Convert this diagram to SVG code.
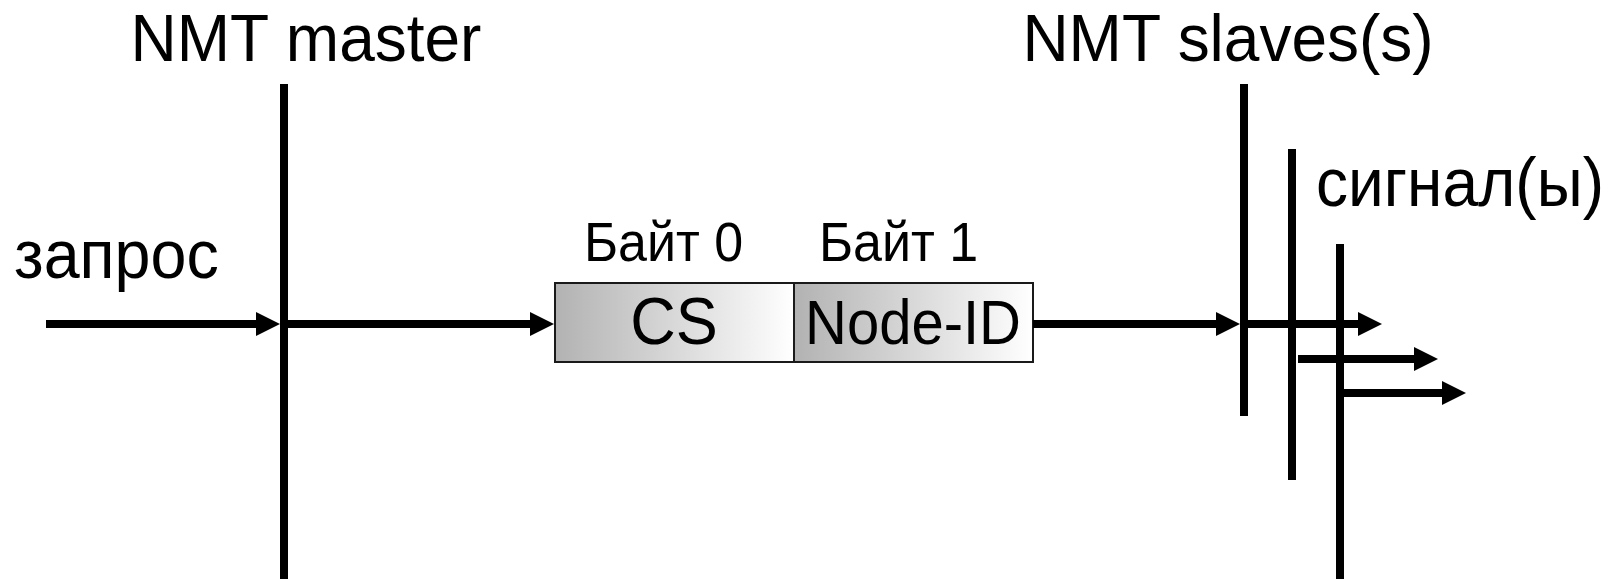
<svg xmlns="http://www.w3.org/2000/svg" width="1612" height="579" viewBox="0 0 1612 579">
  <style>
    text { font-family: "Liberation Sans", Arial, sans-serif; fill: #000; }
    .big { font-size: 64px; }
    .mid { font-size: 58px; }
    .cs { font-size: 63px; }
    .small { font-size: 52px; }
    .life { stroke: #000; stroke-width: 8; fill: none; }
    .conn { stroke: #000; stroke-width: 8; fill: none; marker-end: url(#ah); }
    .cell { stroke: #1a1a1a; stroke-width: 2; fill: url(#grad); }
  </style>
  <defs>
    <linearGradient id="grad" x1="0" y1="0" x2="1" y2="0">
      <stop offset="0" stop-color="#b2b2b2"/>
      <stop offset="1" stop-color="#ffffff"/>
    </linearGradient>
    <marker id="ah" markerUnits="userSpaceOnUse" viewBox="0 0 24 24" markerWidth="24" markerHeight="24" refX="4" refY="12" orient="auto">
      <path d="M0,0 L24,12 L0,24 z" fill="#000"/>
    </marker>
  </defs>

  <g id="master">
    <text class="big" transform="translate(306,60.5) scale(1,1.04)" text-anchor="middle">NMT master</text>
    <line class="life" x1="284" y1="84" x2="284" y2="579"/>
  </g>

  <g id="request-label">
    <text class="big" transform="translate(14,278) scale(1.01,1.08)">запрос</text>
  </g>

  <g id="frame">
    <text class="small" transform="translate(584,261) scale(1,1.08)">Байт 0</text>
    <text class="small" transform="translate(819,261) scale(1,1.08)">Байт 1</text>
    <rect class="cell" x="555" y="283" width="239" height="79"/>
    <rect class="cell" x="794" y="283" width="239" height="79"/>
    <text class="cs" transform="translate(674,344) scale(1,1.06)" text-anchor="middle">CS</text>
    <text class="mid" transform="translate(913,344) scale(1,1.08)" text-anchor="middle">Node-ID</text>
  </g>

  <g id="slaves">
    <text class="big" transform="translate(1228,60.5) scale(1,1.04)" text-anchor="middle">NMT slaves(s)</text>
    <line class="life" x1="1244" y1="84" x2="1244" y2="416"/>
    <line class="life" x1="1292" y1="149" x2="1292" y2="480"/>
    <line class="life" x1="1340" y1="244" x2="1340" y2="579"/>
  </g>

  <g id="signals-label">
    <text class="big" transform="translate(1316,206) scale(1,1.08)">сигнал(ы)</text>
  </g>

  <g id="connectors">
    <line class="conn" x1="46" y1="324" x2="260" y2="324"/>
    <line class="conn" x1="284" y1="324" x2="534" y2="324"/>
    <line class="conn" x1="1033" y1="324" x2="1220" y2="324"/>
    <line class="conn" x1="1244" y1="324" x2="1362" y2="324"/>
    <line class="conn" x1="1298" y1="359" x2="1418" y2="359"/>
    <line class="conn" x1="1340" y1="393" x2="1446" y2="393"/>
  </g>
</svg>
